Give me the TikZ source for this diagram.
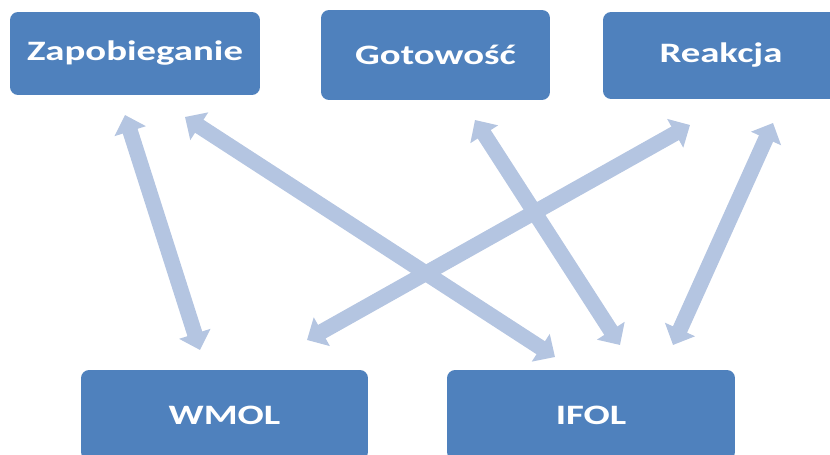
\documentclass[tikz,border=0pt]{standalone}
\usepackage{fontspec}
\setmainfont{Carlito}[FakeStretch=1.38]
\usetikzlibrary{arrows.meta}

\definecolor{boxblue}{HTML}{4F81BD}
\definecolor{linkblue}{HTML}{B4C5E1}

\begin{document}
\begin{tikzpicture}[x=0.02cm,y=-0.02cm,
  box/.style={fill=boxblue,rounded corners=0.16cm,inner sep=0pt,text=white,font=\fontsize{16}{19}\selectfont\bfseries},
  link/.style={draw=linkblue,line width=0.31cm,{Triangle[width=0.64cm,length=0.34cm]}-{Triangle[width=0.64cm,length=0.34cm]}}]
\useasboundingbox (0,0) rectangle (830,455);
\clip (0,0) rectangle (830,455);

\node[box,minimum width=5cm,minimum height=1.66cm] (zap) at (135,53.5) {Zapobieganie};
\node[box,minimum width=4.58cm,minimum height=1.8cm] (got) at (435.5,55) {Gotowość};
\node[box,minimum width=4.72cm,minimum height=1.74cm] (rea) at (721,55.5) {Reakcja};
\node[box,minimum width=5.74cm,minimum height=1.8cm] (wmol) at (224.5,415) {WMOL};
\node[box,minimum width=5.76cm,minimum height=1.8cm] (ifol) at (591,415) {IFOL};

% arrow ends
\coordinate (zapA) at (125,115);
\coordinate (zapB) at (185,117);
\coordinate (gotA) at (475,120);
\coordinate (reaA) at (690,125);
\coordinate (reaB) at (773,123);
\coordinate (wmolA) at (200,350);
\coordinate (wmolB) at (307,340);
\coordinate (ifolA) at (555,357);
\coordinate (ifolB) at (620,345);
\coordinate (ifolC) at (673,345);

\draw[link] (zapA) -- (wmolA);
\draw[link] (zapB) -- (ifolA);
\draw[link] (gotA) -- (ifolB);
\draw[link] (reaA) -- (wmolB);
\draw[link] (reaB) -- (ifolC);

\end{tikzpicture}
\end{document}
